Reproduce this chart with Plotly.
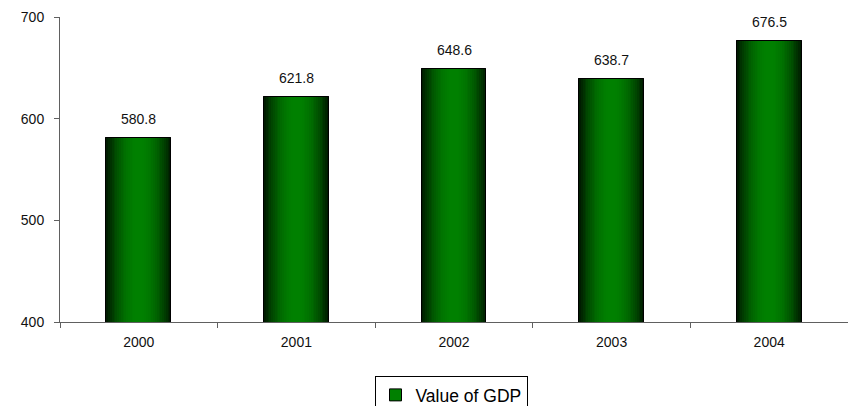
import plotly.graph_objects as go

years = ["2000", "2001", "2002", "2003", "2004"]
gdp = [580.8, 621.8, 648.6, 638.7, 676.5]
y_ticks = [400, 500, 600, 700]

FONT = "Liberation Sans, Arial, sans-serif"
BAR_W = 0.41
LAYERS = 18

fig = go.Figure()

# legend entry: plain green bar with black outline (covered by the shaded layers)
fig.add_trace(go.Bar(
    x=years, y=gdp, width=BAR_W, name="Value of GDP",
    marker=dict(color="#008000", line=dict(color="#000000", width=1)),
    hoverinfo="skip", showlegend=True,
))

# shaded layers: narrower bars get brighter toward the centre of each column
for k in range(LAYERS):
    t = k / (LAYERS - 1)
    f = 1 - (1 - t) ** 2.0
    g = int(round(28 + (128 - 28) * f))
    fig.add_trace(go.Bar(
        x=years, y=gdp, width=BAR_W * (1 - k / LAYERS),
        marker=dict(color=f"rgb(0,{g},0)", line=dict(width=0)),
        hoverinfo="skip", showlegend=False,
    ))

# outline on top of everything
fig.add_trace(go.Bar(
    x=years, y=gdp, width=BAR_W,
    marker=dict(color="rgba(0,0,0,0)", line=dict(color="#000000", width=1)),
    hoverinfo="skip", showlegend=False,
))

# value labels above each bar (category index positions)
for i, v in enumerate(gdp):
    fig.add_annotation(
        x=i, y=v, xref="x", yref="y", text=f"{v:.1f}", showarrow=False,
        yshift=19, font=dict(family=FONT, size=14, color="#111111"),
    )

fig.update_layout(
    width=848, height=406,
    margin=dict(l=60, r=0, t=17, b=84, autoexpand=False),
    paper_bgcolor="white", plot_bgcolor="white",
    barmode="overlay", bargap=0,
    font=dict(family=FONT, size=14, color="#111111"),
    showlegend=True,
    legend=dict(
        orientation="h", xref="container", yref="container",
        x=451 / 848, xanchor="center", y=30 / 406, yanchor="top",
        bordercolor="#000000", borderwidth=1, bgcolor="white",
        font=dict(family=FONT, size=17.5, color="#000000"),
        itemwidth=30,
    ),
)

fig.update_xaxes(
    type="category", range=[-0.5, len(years) - 0.5],
    showline=True, linecolor="#606060", linewidth=1,
    ticks="outside", tickson="boundaries", ticklen=5, tickcolor="#606060",
    showgrid=False, zeroline=False, ticklabelstandoff=7, tickangle=0,
    tickfont=dict(family=FONT, size=14, color="#111111"),
)
fig.update_yaxes(
    range=[400, 700], tickvals=y_ticks, showline=True, linecolor="#606060",
    linewidth=1, ticks="outside", ticklen=5, tickcolor="#606060",
    showgrid=False, zeroline=False, ticklabelstandoff=7,
    tickfont=dict(family=FONT, size=14, color="#111111"),
)

fig.write_html("out.html")
